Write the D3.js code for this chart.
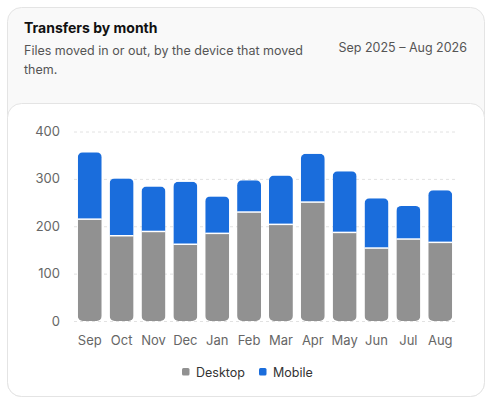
<!DOCTYPE html>
<html>
<head>
<meta charset="utf-8">
<script src="https://cdn.jsdelivr.net/npm/d3@7"></script>
<style>
  body { margin: 0; background: #fff; font-family: Inter, "Noto Sans", sans-serif; }
</style>
</head>
<body>
<svg width="492" height="404"></svg>
<script>
// Data
const months = ["Sep", "Oct", "Nov", "Dec", "Jan", "Feb", "Mar", "Apr", "May", "Jun", "Jul", "Aug"];
const desktop = [215, 180, 189, 162, 185, 230, 204, 251, 187, 154, 173, 166];
const mobile = [141, 121, 95, 132, 78, 67, 103, 102, 129, 105, 70, 110];
const yTicks = [0, 100, 200, 300, 400];
const keys = ["Desktop", "Mobile"];
const colors = ["#919191", "#1a6ddc"];

const data = months.map((m, i) => ({ month: m, Desktop: desktop[i], Mobile: mobile[i] }));
const stacked = d3.stack().keys(keys)(data);

const svg = d3.select("svg");

// card backgrounds
svg.append("rect").attr("x", 7.5).attr("y", 7.5).attr("width", 477).attr("height", 389)
    .attr("rx", 14).attr("fill", "#f9f9f9").attr("stroke", "#e4e4e4");
svg.append("rect").attr("x", 7.5).attr("y", 103.5).attr("width", 477).attr("height", 293)
    .attr("rx", 14).attr("fill", "#fff").attr("stroke", "#e4e4e4");

// header
svg.append("text").attr("x", 24).attr("y", 33).attr("font-size", 14).attr("font-weight", 700)
    .attr("fill", "#111").text("Transfers by month");
svg.append("text").attr("x", 24).attr("y", 55).attr("font-size", 12.5).attr("fill", "#555")
    .text("Files moved in or out, by the device that moved");
svg.append("text").attr("x", 24).attr("y", 74).attr("font-size", 12.5).attr("fill", "#555")
    .text("them.");
svg.append("text").attr("x", 467).attr("y", 52).attr("text-anchor", "end").attr("font-size", 12.5)
    .attr("fill", "#555").text("Sep 2025 – Aug 2026");

const x = d3.scaleBand().domain(months).range([74, 456]).paddingInner(0.25).paddingOuter(0.12);
const y = d3.scaleLinear().domain([0, 400]).range([321, 131.5]);

// gridlines
svg.append("g").selectAll("line").data(yTicks).enter().append("line")
    .attr("x1", 74).attr("x2", 457)
    .attr("y1", d => y(d) + 0.5).attr("y2", d => y(d) + 0.5)
    .attr("stroke", "#e2e2e2").attr("stroke-dasharray", "3,3");

// y axis labels
svg.append("g").selectAll("text").data(yTicks).enter().append("text")
    .attr("x", 60).attr("y", d => y(d) + 4.5).attr("text-anchor", "end")
    .attr("font-size", 13).attr("fill", "#666").text(d => d);

// x axis labels
svg.append("g").selectAll("text").data(months).enter().append("text")
    .attr("x", d => x(d) + x.bandwidth() / 2).attr("y", 345).attr("text-anchor", "middle")
    .attr("font-size", 13).attr("fill", "#666").text(d => d);

// clip paths for rounded bars
const defs = svg.append("defs");
data.forEach((d, i) => {
    defs.append("clipPath").attr("id", "clip" + i).append("rect")
        .attr("x", x(d.month)).attr("width", x.bandwidth())
        .attr("y", y(d.Desktop + d.Mobile)).attr("height", y(0) - y(d.Desktop + d.Mobile))
        .attr("rx", 5);
});

const bars = svg.append("g");
stacked.forEach((layer, k) => {
    bars.selectAll(".s" + k).data(layer).enter().append("rect")
        .attr("clip-path", (d, i) => `url(#clip${i})`)
        .attr("x", d => x(d.data.month)).attr("width", x.bandwidth())
        .attr("y", d => y(d[1])).attr("height", d => y(d[0]) - y(d[1]))
        .attr("fill", colors[k]);
});
// white separator between segments
bars.selectAll(".sep").data(stacked[0]).enter().append("line")
    .attr("x1", d => x(d.data.month)).attr("x2", d => x(d.data.month) + x.bandwidth())
    .attr("y1", d => y(d[1])).attr("y2", d => y(d[1]))
    .attr("stroke", "#fff").attr("stroke-width", 1.5);

// legend
const legend = svg.append("g");
const legendX = [182, 259];
keys.forEach((k, i) => {
    legend.append("rect").attr("x", legendX[i]).attr("y", 368).attr("width", 7.5).attr("height", 7.5)
        .attr("rx", 1.5).attr("fill", colors[i]);
    legend.append("text").attr("x", legendX[i] + 14).attr("y", 376.5).attr("font-size", 12.5)
        .attr("fill", "#333").text(k);
});
</script>
</body>
</html>
